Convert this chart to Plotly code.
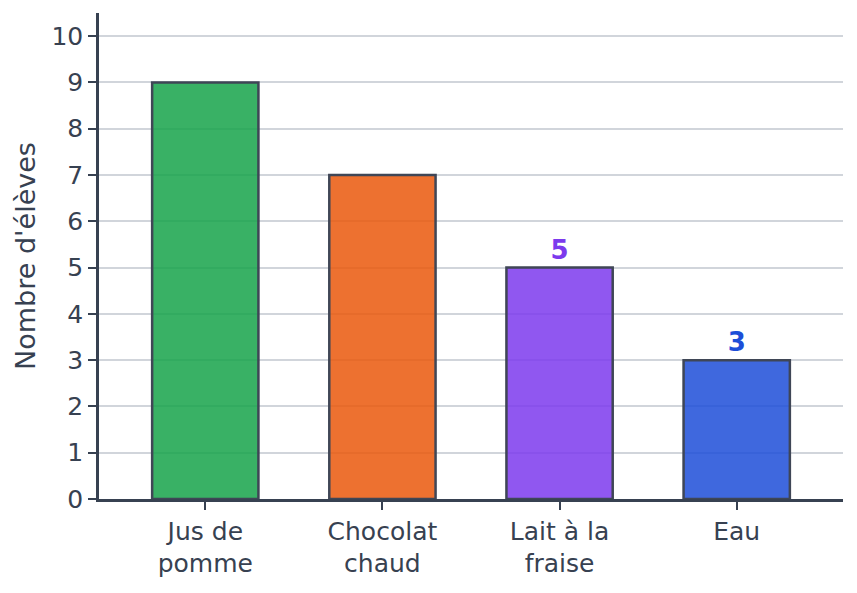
import plotly.graph_objects as go

categories = ["Jus de<br>pomme", "Chocolat<br>chaud", "Lait à la<br>fraise", "Eau"]
eleves = [9, 7, 5, 3]
shown_labels = ["", "", "<b>5</b>", "<b>3</b>"]
bar_colors = ["#16a34a", "#ea580c", "#7c3aed", "#1d4ed8"]

ink = "#374151"


def fade(hex_color, alpha=0.85):
    r, g, b = (int(hex_color[i:i + 2], 16) for i in (1, 3, 5))
    return f"rgba({r},{g},{b},{alpha})"


fig = go.Figure()
fig.add_trace(go.Bar(
    x=categories,
    y=eleves,
    width=0.6,
    marker=dict(color=[fade(c) for c in bar_colors],
                line=dict(color="#3f4656", width=2.5)),
    text=shown_labels,
    textposition="outside",
    textfont=dict(family="DejaVu Sans", size=26, color=bar_colors),
    cliponaxis=False,
))

# page body has an 8px margin, so margins are shifted to compensate
fig.update_layout(
    width=857, height=593,
    margin=dict(l=91, r=22, t=5, b=102),
    plot_bgcolor="white", paper_bgcolor="white",
    font=dict(family="DejaVu Sans", size=25, color=ink),
    showlegend=False,
)
fig.update_xaxes(
    range=[-0.6, 3.6],
    showline=True, linecolor=ink, linewidth=2.5,
    ticks="outside", ticklen=8, tickcolor=ink, tickwidth=2,
    showgrid=False, tickfont=dict(size=25),
)
fig.update_yaxes(
    range=[0, 10.5], dtick=1,
    title=dict(text="Nombre d'élèves", font=dict(size=27), standoff=8),
    showline=True, linecolor=ink, linewidth=2.5,
    ticks="outside", ticklen=8, tickcolor=ink, tickwidth=2,
    showgrid=True, gridcolor="#d1d5db", gridwidth=1.5,
    zeroline=False, tickfont=dict(size=25),
)

fig.write_html("out.html")
